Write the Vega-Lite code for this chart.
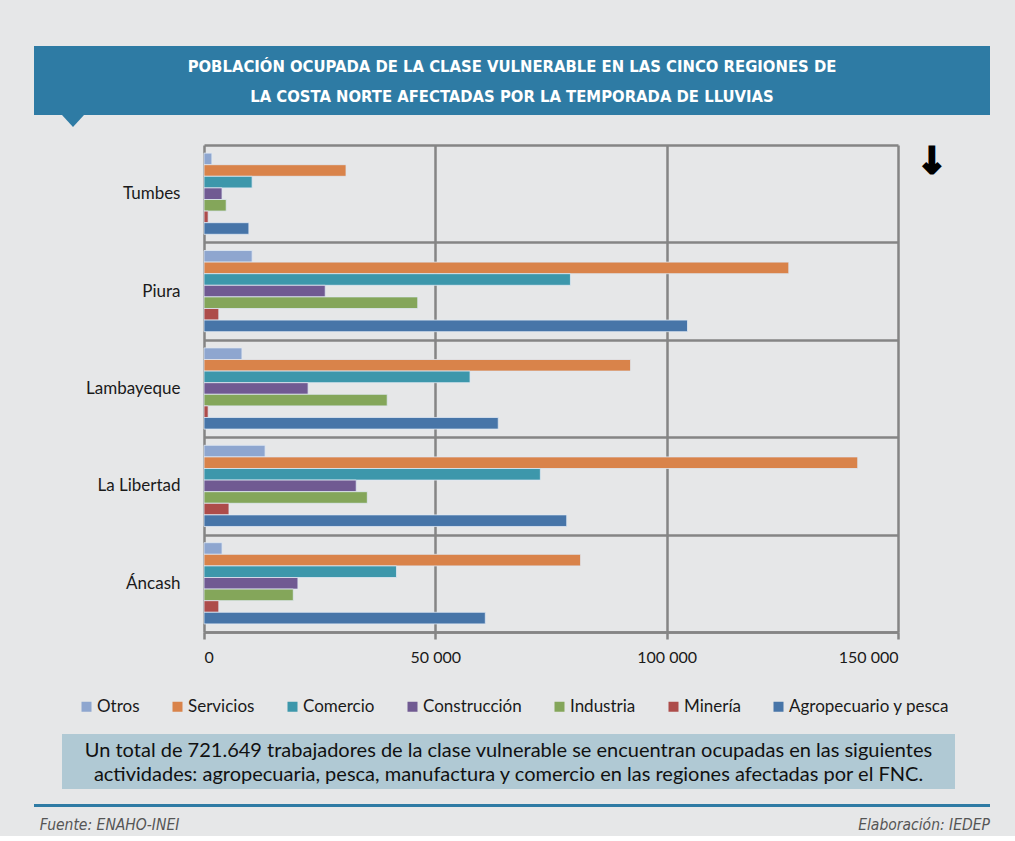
{
  "$schema": "https://vega.github.io/schema/vega-lite/v6.json",
  "background": "#e6e7e8",
  "padding": {"left": 34, "top": 46, "right": 25, "bottom": 0},
  "config": {"view": {"stroke": null}, "font": "Lato"},
  "resolve": {"scale": {"color": "independent"}, "legend": {"color": "independent"}},
  "spacing": 0,
  "vconcat": [
    {
      "width": 956,
      "height": 69,
      "view": {"fill": "#2e7ba4", "stroke": null},
      "data": {"values": [{"t": 1}]},
      "layer": [
        {
          "mark": {"type": "point", "shape": "M-1,-1L1,-1L0,0.1Z", "filled": true, "color": "#2e7ba4", "opacity": 1, "size": 484, "strokeWidth": 0},
          "encoding": {
            "x": {"datum": 0.0408, "type": "quantitative", "scale": {"domain": [0, 1]}, "axis": null},
            "y": {"datum": -0.158, "type": "quantitative", "scale": {"domain": [0, 1]}, "axis": null}
          }
        },
        {
          "mark": {"type": "text", "font": "DejaVu Sans Condensed", "fontWeight": "bold", "fontSize": 16.5, "color": "#ffffff", "lineHeight": 30, "align": "center", "baseline": "middle"},
          "encoding": {
            "x": {"datum": 0.5, "type": "quantitative"},
            "y": {"datum": 0.6957, "type": "quantitative"},
            "text": {"value": ["POBLACIÓN OCUPADA DE LA CLASE VULNERABLE EN LAS CINCO REGIONES DE", "LA COSTA NORTE AFECTADAS POR LA TEMPORADA DE LLUVIAS"]}
          }
        }
      ]
    },
    {
      "width": 956,
      "height": 8,
      "data": {"values": []},
      "mark": "point"
    },
    {
      "width": 864,
      "height": 487,
      "data": {"values": [
        {"region": "Tumbes", "sector": "Otros", "value": 1700},
        {"region": "Tumbes", "sector": "Servicios", "value": 30700},
        {"region": "Tumbes", "sector": "Comercio", "value": 10400},
        {"region": "Tumbes", "sector": "Construcción", "value": 3900},
        {"region": "Tumbes", "sector": "Industria", "value": 4800},
        {"region": "Tumbes", "sector": "Minería", "value": 900},
        {"region": "Tumbes", "sector": "Agropecuario y pesca", "value": 9700},
        {"region": "Piura", "sector": "Otros", "value": 10400},
        {"region": "Piura", "sector": "Servicios", "value": 126400},
        {"region": "Piura", "sector": "Comercio", "value": 79200},
        {"region": "Piura", "sector": "Construcción", "value": 26200},
        {"region": "Piura", "sector": "Industria", "value": 46200},
        {"region": "Piura", "sector": "Minería", "value": 3200},
        {"region": "Piura", "sector": "Agropecuario y pesca", "value": 104500},
        {"region": "Lambayeque", "sector": "Otros", "value": 8200},
        {"region": "Lambayeque", "sector": "Servicios", "value": 92200},
        {"region": "Lambayeque", "sector": "Comercio", "value": 57500},
        {"region": "Lambayeque", "sector": "Construcción", "value": 22500},
        {"region": "Lambayeque", "sector": "Industria", "value": 39600},
        {"region": "Lambayeque", "sector": "Minería", "value": 900},
        {"region": "Lambayeque", "sector": "Agropecuario y pesca", "value": 63600},
        {"region": "La Libertad", "sector": "Otros", "value": 13200},
        {"region": "La Libertad", "sector": "Servicios", "value": 141300},
        {"region": "La Libertad", "sector": "Comercio", "value": 72700},
        {"region": "La Libertad", "sector": "Construcción", "value": 32900},
        {"region": "La Libertad", "sector": "Industria", "value": 35300},
        {"region": "La Libertad", "sector": "Minería", "value": 5400},
        {"region": "La Libertad", "sector": "Agropecuario y pesca", "value": 78400},
        {"region": "Áncash", "sector": "Otros", "value": 3900},
        {"region": "Áncash", "sector": "Servicios", "value": 81400},
        {"region": "Áncash", "sector": "Comercio", "value": 41600},
        {"region": "Áncash", "sector": "Construcción", "value": 20300},
        {"region": "Áncash", "sector": "Industria", "value": 19300},
        {"region": "Áncash", "sector": "Minería", "value": 3200},
        {"region": "Áncash", "sector": "Agropecuario y pesca", "value": 60800}
      ]},
      "layer": [
        {
          "mark": {"type": "bar", "stroke": "#dfe8f2", "strokeWidth": 0.8},
          "encoding": {
            "y": {
              "field": "region", "type": "nominal",
              "sort": ["Tumbes", "Piura", "Lambayeque", "La Libertad", "Áncash"],
              "scale": {"paddingInner": 0, "paddingOuter": 0},
              "axis": {"title": null, "offset": -170, "grid": true, "tickBand": "extent", "gridColor": "#858585", "gridWidth": 2.5, "domain": false, "ticks": false, "labelFontSize": 17, "labelPadding": 24, "labelColor": "#1a1a1a"}
            },
            "yOffset": {
              "field": "sector", "type": "nominal",
              "sort": ["Otros", "Servicios", "Comercio", "Construcción", "Industria", "Minería", "Agropecuario y pesca"],
              "scale": {"paddingInner": 0, "paddingOuter": 0.7}
            },
            "x": {
              "field": "value", "type": "quantitative",
              "scale": {"domain": [0, 150000], "nice": false, "range": [170, 864]},
              "axis": {"title": null, "values": [0, 50000, 100000, 150000], "grid": true, "gridColor": "#858585", "gridWidth": 2.5, "domainColor": "#858585", "domainWidth": 2.5, "tickColor": "#858585", "tickWidth": 2.5, "tickSize": 7, "labelFontSize": 16, "labelPadding": 10, "labelColor": "#1a1a1a", "labelExpr": "datum.value == 0 ? '0' : format(datum.value / 1000, 'd') + ' 000'"}
            },
            "color": {
              "field": "sector", "type": "nominal",
              "scale": {
                "domain": ["Otros", "Servicios", "Comercio", "Construcción", "Industria", "Minería", "Agropecuario y pesca"],
                "range": ["#8ea6cf", "#d9834a", "#3d97ab", "#705a92", "#84a65a", "#ad4c4a", "#4775a8"]
              },
              "legend": {"orient": "none", "legendX": 44, "legendY": 553, "direction": "horizontal", "columns": 7, "title": null, "symbolType": "square", "symbolSize": 100, "symbolStrokeWidth": 0, "labelFontSize": 17, "labelOffset": 2, "labelLimit": 300, "columnPadding": 29, "labelColor": "#1a1a1a"}
            }
          }
        },
        {
          "data": {"values": [{"t": 1}]},
          "mark": {"type": "text", "text": "↓", "font": "DejaVu Sans", "fontWeight": "bold", "fontSize": 36, "color": "#000000", "stroke": "#000000", "strokeWidth": 2.5, "align": "center", "baseline": "top"},
          "encoding": {
            "x": {"datum": 157300, "type": "quantitative"},
            "y": {"datum": "Tumbes", "type": "nominal", "bandPosition": 0}
          }
        }
      ]
    },
    {
      "width": 956,
      "height": 19,
      "data": {"values": []},
      "mark": "point"
    },
    {
      "width": 956,
      "height": 55,
      "data": {"values": [{"t": 1}]},
      "layer": [
        {
          "mark": {"type": "rect", "color": "#b0c9d4"},
          "encoding": {
            "x": {"datum": 0, "type": "quantitative", "scale": {"domain": [0, 1], "range": [28, 921]}, "axis": null},
            "x2": {"datum": 1},
            "y": {"datum": 0, "type": "quantitative", "scale": {"domain": [0, 1]}, "axis": null},
            "y2": {"datum": 1}
          }
        },
        {
          "mark": {"type": "text", "fontSize": 20, "lineHeight": 24, "color": "#111111", "align": "center", "baseline": "middle"},
          "encoding": {
            "x": {"datum": 0.5, "type": "quantitative"},
            "y": {"datum": 0.7, "type": "quantitative"},
            "text": {"value": ["Un total de 721.649 trabajadores de la clase vulnerable se encuentran ocupadas en las siguientes", "actividades: agropecuaria, pesca, manufactura y comercio en las regiones afectadas por el FNC."]}
          }
        }
      ]
    },
    {
      "width": 956,
      "height": 15,
      "data": {"values": []},
      "mark": "point"
    },
    {
      "width": 956,
      "height": 3,
      "view": {"fill": "#2e7ba4", "stroke": null},
      "data": {"values": []},
      "mark": "point"
    },
    {
      "width": 956,
      "height": 7,
      "data": {"values": []},
      "mark": "point"
    },
    {
      "width": 956,
      "height": 22,
      "data": {"values": [{"t": 1}]},
      "layer": [
        {
          "mark": {"type": "text", "text": "Fuente: ENAHO-INEI", "font": "DejaVu Sans Condensed", "fontStyle": "italic", "fontSize": 15.5, "color": "#555555", "align": "left", "baseline": "middle"},
          "encoding": {
            "x": {"datum": 0.006, "type": "quantitative", "scale": {"domain": [0, 1]}, "axis": null},
            "y": {"datum": 0.5, "type": "quantitative", "scale": {"domain": [0, 1]}, "axis": null}
          }
        },
        {
          "mark": {"type": "text", "text": "Elaboración: IEDEP", "font": "DejaVu Sans Condensed", "fontStyle": "italic", "fontSize": 15.5, "color": "#555555", "align": "right", "baseline": "middle"},
          "encoding": {
            "x": {"datum": 1, "type": "quantitative"},
            "y": {"datum": 0.5, "type": "quantitative"}
          }
        }
      ]
    }
  ]
}
